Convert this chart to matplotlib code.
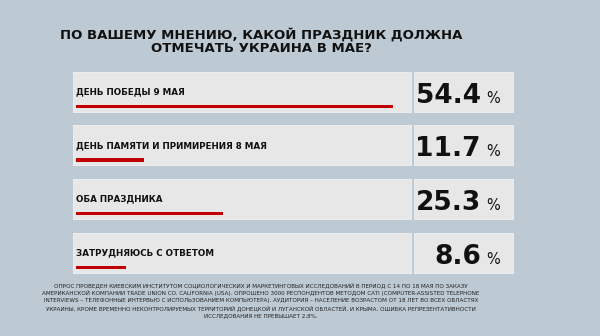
import matplotlib
matplotlib.use('Agg')
import matplotlib.pyplot as plt
from matplotlib.patches import Rectangle

# data
labels = ['ДЕНЬ ПОБЕДЫ 9 МАЯ', 'ДЕНЬ ПАМЯТИ И ПРИМИРЕНИЯ 8 МАЯ',
          'ОБА ПРАЗДНИКА', 'ЗАТРУДНЯЮСЬ С ОТВЕТОМ']
values = [54.4, 11.7, 25.3, 8.6]
title_lines = ['ПО ВАШЕМУ МНЕНИЮ, КАКОЙ ПРАЗДНИК ДОЛЖНА',
               'ОТМЕЧАТЬ УКРАИНА В МАЕ?']
note_lines = [
    'ОПРОС ПРОВЕДЕН КИЕВСКИМ ИНСТИТУТОМ СОЦИОЛОГИЧЕСКИХ И МАРКЕТИНГОВЫХ '
    'ИССЛЕДОВАНИЙ В ПЕРИОД С 14 ПО 18 МАЯ ПО ЗАКАЗУ',
    'АМЕРИКАНСКОЙ КОМПАНИИ TRADE UNION CO. CALIFORNIA (USA). ОПРОШЕНО 3000 '
    'РЕСПОНДЕНТОВ МЕТОДОМ CATI (COMPUTER-ASSISTED TELEPHONE',
    'INTERVIEWS – ТЕЛЕФОННЫЕ ИНТЕРВЬЮ С ИСПОЛЬЗОВАНИЕМ КОМПЬЮТЕРА). '
    'АУДИТОРИЯ – НАСЕЛЕНИЕ ВОЗРАСТОМ ОТ 18 ЛЕТ ВО ВСЕХ ОБЛАСТЯХ',
    'УКРАИНЫ, КРОМЕ ВРЕМЕННО НЕКОНТРОЛИРУЕМЫХ ТЕРРИТОРИЙ ДОНЕЦКОЙ И '
    'ЛУГАНСКОЙ ОБЛАСТЕЙ, И КРЫМА. ОШИБКА РЕПРЕЗЕНТАТИВНОСТИ',
    'ИССЛЕДОВАНИЯ НЕ ПРЕВЫШАЕТ 2,8%.',
]

BG = '#bdcad3'
PANEL = '#e7e7e7'
RED = '#c00000'
FONT = 'DejaVu Sans'

W, H = 600, 336
ROW_TOP = 71.7      # top of the first panel, px
ROW_STEP = 53.7     # distance between rows, px
ROW_H = 40
BAR_Y0 = 106.3      # center of first red bar, px
PX_PER_PCT = 5.82

fig = plt.figure(figsize=(6, 3.36), dpi=100, facecolor=BG)

# pixel-space axes for panels and text
ax = fig.add_axes([0, 0, 1, 1])
ax.set_xlim(0, W)
ax.set_ylim(H, 0)
ax.axis('off')

for i, (lab, val) in enumerate(zip(labels, values)):
    top = ROW_TOP + i * ROW_STEP
    ax.add_patch(Rectangle((73, top), 338, ROW_H, facecolor=PANEL,
                           edgecolor='#f2f2f2', lw=0.6))
    ax.add_patch(Rectangle((414, top), 99, ROW_H, facecolor=PANEL,
                           edgecolor='#f2f2f2', lw=0.6))
    ax.text(76, top + 20, lab, fontsize=6.3, fontweight='bold',
            family=FONT, color='#111111', va='center', ha='left')
    ax.text(481, top + 31, f'{val}', fontsize=19, fontweight='heavy',
            family=FONT, color='#111111', va='baseline', ha='right')
    ax.text(486, top + 31, '%', fontsize=10.5, family=FONT,
            color='#111111', va='baseline', ha='left')

# title lines, placed by baseline
for k, line in enumerate(title_lines):
    ax.text(261, 39 + k * 13, line, fontsize=9.5, fontweight='bold',
            family=FONT, color='#111111', ha='center', va='baseline')

for k, line in enumerate(note_lines):
    ax.text(261, 285.3 + k * 7.6, line, fontsize=4.1, family=FONT,
            color='#222222', ha='center', va='center')

# bar axes: x in percent, y in row index
x_max = 60
axb = fig.add_axes([76 / W, 0, x_max * PX_PER_PCT / W, 1])
axb.set_xlim(0, x_max)
axb.set_ylim((H - BAR_Y0) / ROW_STEP, -BAR_Y0 / ROW_STEP)
axb.axis('off')
axb.barh(range(len(values)), values, height=3.2 / ROW_STEP, color=RED)

fig.savefig('out.png', dpi=100, facecolor=BG)
